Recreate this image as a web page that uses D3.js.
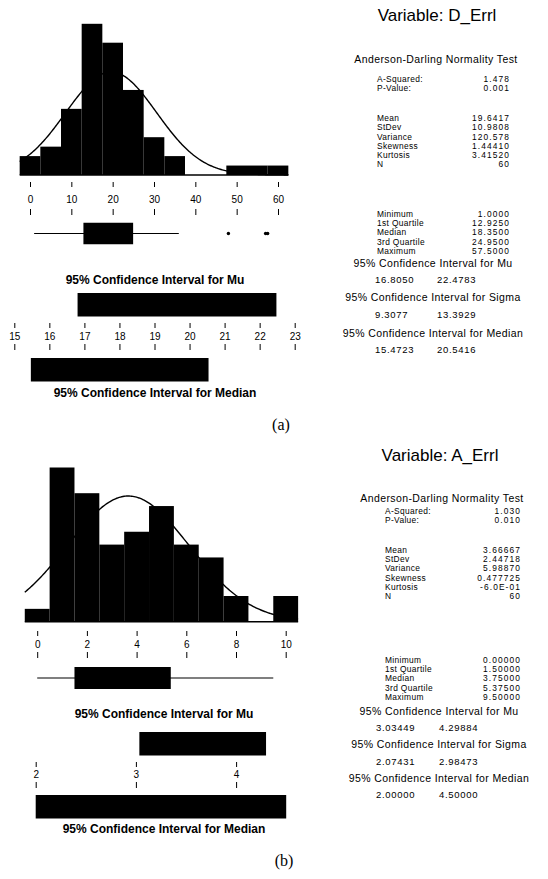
<!DOCTYPE html>
<html>
<head>
<meta charset="utf-8">
<script src="https://cdn.jsdelivr.net/npm/d3@7"></script>
<style>
body { margin: 0; background: #fff; }
svg text { font-family: "Liberation Sans", Arial, sans-serif; fill: #000; }
</style>
</head>
<body>
<script>
const w = 548;
const h = 879;

// ---------- shared labels ----------
const testLabels = ["A-Squared:", "P-Value:"];
const momentLabels = ["Mean", "StDev", "Variance", "Skewness", "Kurtosis", "N"];
const quantLabels = ["Minimum", "1st Quartile", "Median", "3rd Quartile", "Maximum"];
const ciTitles = ["95% Confidence Interval for Mu", "95% Confidence Interval for Sigma", "95% Confidence Interval for Median"];

// ---------- (a) D_Errl ----------
const binsA = [0, 5, 10, 15, 20, 25, 30, 35, 40, 45, 50, 55, 60];
const countsA = [2, 3, 7, 16, 14, 9, 4, 2, 0, 0, 1, 1, 1];
const ticksA = [0, 10, 20, 30, 40, 50, 60];
const boxA = [1.0, 12.925, 18.35, 24.95, 36.0];   // whisker lo, Q1, median, Q3, whisker hi
const outliersA = [48.0, 57.0, 57.5];
const ciMuA = [16.805, 22.4783];
const ciMedA = [15.4723, 20.5416];
const ciTicksA = [15, 16, 17, 18, 19, 20, 21, 22, 23];
const testValsA = ["1.478", "0.001"];
const momentValsA = ["19.6417", "10.9808", "120.578", "1.44410", "3.41520", "60"];
const quantValsA = ["1.0000", "12.9250", "18.3500", "24.9500", "57.5000"];
const ciValsA = [["16.8050", "22.4783"], ["9.3077", "13.3929"], ["15.4723", "20.5416"]];

// ---------- (b) A_Errl ----------
const binsB = [0, 1, 2, 3, 4, 5, 6, 7, 8, 9, 10];
const countsB = [1, 12, 10, 6, 7, 9, 6, 5, 2, 0, 2];
const ticksB = [0, 2, 4, 6, 8, 10];
const boxB = [0.0, 1.5, 3.75, 5.375, 9.5];
const outliersB = [];
const ciMuB = [3.03449, 4.29884];
const ciMedB = [2.0, 4.5];
const ciTicksB = [2, 3, 4];
const testValsB = ["1.030", "0.010"];
const momentValsB = ["3.66667", "2.44718", "5.98870", "0.477725", "-6.0E-01", "60"];
const quantValsB = ["0.00000", "1.50000", "3.75000", "5.37500", "9.50000"];
const ciValsB = [["3.03449", "4.29884"], ["2.07431", "2.98473"], ["2.00000", "4.50000"]];

const svg = d3.select("body")
              .append("svg")
              .attr("width", w)
              .attr("height", h);

function normPdf(v, m, s) {
  return Math.exp(-0.5 * ((v - m) / s) ** 2) / (s * Math.sqrt(2 * Math.PI));
}

function drawPanel(d, L) {
  const g = svg.append("g");
  const n = d3.sum(d.counts);

  // histogram
  const x = d3.scaleLinear().domain(L.xDom).range(L.xRange);
  const y = d3.scaleLinear().domain([0, L.yMax]).range([L.base, L.yTop]);
  const half = d.bw / 2;

  g.selectAll("rect.bar")
    .data(d.bins.map((c, i) => ({c: c, k: d.counts[i]})))
    .join("rect")
      .attr("x", b => x(b.c - half))
      .attr("width", b => x(b.c + half) - x(b.c - half))
      .attr("y", b => y(b.k))
      .attr("height", b => y(0) - y(b.k))
      .attr("fill", "#000");

  g.append("line")
    .attr("x1", x(d.bins[0] - half)).attr("x2", x(d.bins[d.bins.length - 1] + half))
    .attr("y1", y(0)).attr("y2", y(0))
    .attr("stroke", "#000").attr("stroke-width", 1.5);

  // fitted normal curve (from the printed mean / stdev)
  const xs = d3.range(d.bins[0] - half, d.bins[d.bins.length - 1] + half + 0.001, d.bw / 20);
  g.append("path")
    .datum(xs)
    .attr("fill", "none")
    .attr("stroke", "#000")
    .attr("stroke-width", 1.4)
    .attr("d", d3.line()
      .x(v => x(v))
      .y(v => y(n * d.bw * normPdf(v, d.mean, d.sd))));

  // axis: mark, label, mark
  g.append("g")
    .attr("transform", "translate(0," + L.tickUp + ")")
    .attr("font-size", 11).attr("font-family", "Liberation Sans, Arial, sans-serif")
    .call(d3.axisBottom(x).tickValues(d.ticks).tickSize(5).tickPadding(L.pad).tickFormat(d3.format("d")))
    .call(a => a.select(".domain").remove());
  g.append("g")
    .attr("transform", "translate(0," + L.tickDown + ")")
    .call(d3.axisBottom(x).tickValues(d.ticks).tickSize(6).tickFormat(""))
    .call(a => a.select(".domain").remove());

  // boxplot
  g.append("line")
    .attr("x1", x(d.box[0])).attr("x2", x(d.box[4]))
    .attr("y1", L.boxY).attr("y2", L.boxY)
    .attr("stroke", "#000").attr("stroke-width", 1.2);
  g.append("rect")
    .attr("x", x(d.box[1])).attr("width", x(d.box[3]) - x(d.box[1]))
    .attr("y", L.boxY - L.boxH / 2).attr("height", L.boxH)
    .attr("fill", "#000");
  g.selectAll("circle.out")
    .data(d.outliers)
    .join("circle")
      .attr("cx", v => x(v)).attr("cy", L.boxY).attr("r", 1.7)
      .attr("fill", "#000");

  // confidence intervals
  const xc = d3.scaleLinear().domain(L.ciDom).range(L.ciRange);
  g.append("text")
    .attr("x", L.ciTitleX).attr("y", L.muTitle).attr("dy", "0.35em")
    .attr("text-anchor", "middle").attr("font-size", 12).attr("font-weight", "bold")
    .text(ciTitles[0]);
  g.append("rect")
    .attr("x", xc(d.ciMu[0])).attr("width", xc(d.ciMu[1]) - xc(d.ciMu[0]))
    .attr("y", L.muTop).attr("height", L.barH)
    .attr("fill", "#000");
  g.append("g")
    .attr("transform", "translate(0," + L.ciUp + ")")
    .attr("font-size", 11.5).attr("font-family", "Liberation Sans, Arial, sans-serif")
    .call(d3.axisBottom(xc).tickValues(d.ciTicks).tickSize(5).tickPadding(L.ciPad).tickFormat(d3.format("d")))
    .call(a => a.select(".domain").remove());
  g.append("g")
    .attr("transform", "translate(0," + L.ciDown + ")")
    .call(d3.axisBottom(xc).tickValues(d.ciTicks).tickSize(6).tickFormat(""))
    .call(a => a.select(".domain").remove());
  g.append("rect")
    .attr("x", xc(d.ciMed[0])).attr("width", xc(d.ciMed[1]) - xc(d.ciMed[0]))
    .attr("y", L.medTop).attr("height", L.barH)
    .attr("fill", "#000");
  g.append("text")
    .attr("x", L.ciTitleX).attr("y", L.medTitle).attr("dy", "0.35em")
    .attr("text-anchor", "middle").attr("font-size", 12).attr("font-weight", "bold")
    .text(ciTitles[2]);

  g.append("text")
    .attr("x", L.tagX).attr("y", L.tagY).attr("dy", "0.35em")
    .attr("text-anchor", "middle").attr("font-size", 16)
    .style("font-family", "Liberation Serif, Times New Roman, serif")
    .text(d.tag);

  // statistics text
  const s = g.append("g");
  s.append("text")
    .attr("x", L.sTitleX).attr("y", L.sTitleY).attr("dy", "0.35em")
    .attr("text-anchor", "middle").attr("font-size", 17)
    .text("Variable: " + d.name);
  s.append("text")
    .attr("x", L.sMidX).attr("y", L.adY).attr("dy", "0.35em")
    .attr("text-anchor", "middle").attr("font-size", 10.5).attr("letter-spacing", 0.4)
    .text("Anderson-Darling Normality Test");

  const rows = [];
  testLabels.forEach((t, i) => rows.push([t, d.testVals[i], L.testY[i]]));
  momentLabels.forEach((t, i) => rows.push([t, d.momentVals[i], L.momentY[i]]));
  quantLabels.forEach((t, i) => rows.push([t, d.quantVals[i], L.quantY[i]]));
  rows.forEach(r => {
    s.append("text").attr("x", L.labX).attr("y", r[2]).attr("dy", "0.35em")
      .attr("font-size", 8.4).attr("letter-spacing", 0.35).text(r[0]);
    s.append("text").attr("x", L.valX).attr("y", r[2]).attr("dy", "0.35em")
      .attr("text-anchor", "end").attr("font-size", 8.4).attr("letter-spacing", 1.1).text(r[1]);
  });

  ciTitles.forEach((t, i) => {
    s.append("text").attr("x", L.sMidX - 3).attr("y", L.ciTY[i]).attr("dy", "0.35em")
      .attr("text-anchor", "middle").attr("font-size", 10.5).attr("letter-spacing", 0.4).text(t);
    s.append("text").attr("x", L.ciV1).attr("y", L.ciVY[i]).attr("dy", "0.35em")
      .attr("font-size", 9.5).attr("letter-spacing", 0.7).text(d.ciVals[i][0]);
    s.append("text").attr("x", L.ciV2).attr("y", L.ciVY[i]).attr("dy", "0.35em")
      .attr("font-size", 9.5).attr("letter-spacing", 0.7).text(d.ciVals[i][1]);
  });
}

drawPanel(
  {name: "D_Errl", tag: "(a)", bins: binsA, counts: countsA, bw: 5, mean: 19.6417, sd: 10.9808,
   ticks: ticksA, box: boxA, outliers: outliersA, ciMu: ciMuA, ciMed: ciMedA, ciTicks: ciTicksA,
   testVals: testValsA, momentVals: momentValsA, quantVals: quantValsA, ciVals: ciValsA},
  {xDom: [0, 60], xRange: [30, 278], yMax: 16, base: 175, yTop: 23.8,
   tickUp: 182, pad: 9, tickDown: 209, boxY: 233.5, boxH: 21.5,
   ciDom: [15, 23], ciRange: [14.3, 294.7], ciTitleX: 155, muTitle: 280, muTop: 293, barH: 23.5,
   ciUp: 323, ciPad: 4.5, ciDown: 344, medTop: 358, medTitle: 393, tagX: 281, tagY: 424,
   sTitleX: 437, sTitleY: 15, sMidX: 436, adY: 59, labX: 377, valX: 510,
   testY: [79, 88.3], momentY: [118.3, 127.5, 136.7, 145.9, 155.1, 164.3],
   quantY: [214, 223.2, 232.4, 241.6, 250.8], ciTY: [263, 297.5, 333.3], ciVY: [280, 315, 350],
   ciV1: 375, ciV2: 437});

drawPanel(
  {name: "A_Errl", tag: "(b)", bins: binsB, counts: countsB, bw: 1, mean: 3.66667, sd: 2.44718,
   ticks: ticksB, box: boxB, outliers: outliersB, ciMu: ciMuB, ciMed: ciMedB, ciTicks: ciTicksB,
   testVals: testValsB, momentVals: momentValsB, quantVals: quantValsB, ciVals: ciValsB},
  {xDom: [0, 10], xRange: [37.2, 285.7], yMax: 12, base: 621.7, yTop: 467.5,
   tickUp: 631, pad: 4.5, tickDown: 652, boxY: 678, boxH: 22,
   ciDom: [3, 4], ciRange: [135.9, 236.1], ciTitleX: 164, muTitle: 714, muTop: 732, barH: 23.5,
   ciUp: 762, ciPad: 3.5, ciDown: 782, medTop: 795, medTitle: 829, tagX: 284, tagY: 860,
   sTitleX: 440, sTitleY: 455, sMidX: 442, adY: 498, labX: 385, valX: 521,
   testY: [511, 520.2], momentY: [550, 559.2, 568.4, 577.6, 586.8, 596],
   quantY: [660, 669.2, 678.4, 687.6, 696.8], ciTY: [711, 744.5, 778.3], ciVY: [727.5, 761.7, 795],
   ciV1: 376, ciV2: 439});
</script>
</body>
</html>
